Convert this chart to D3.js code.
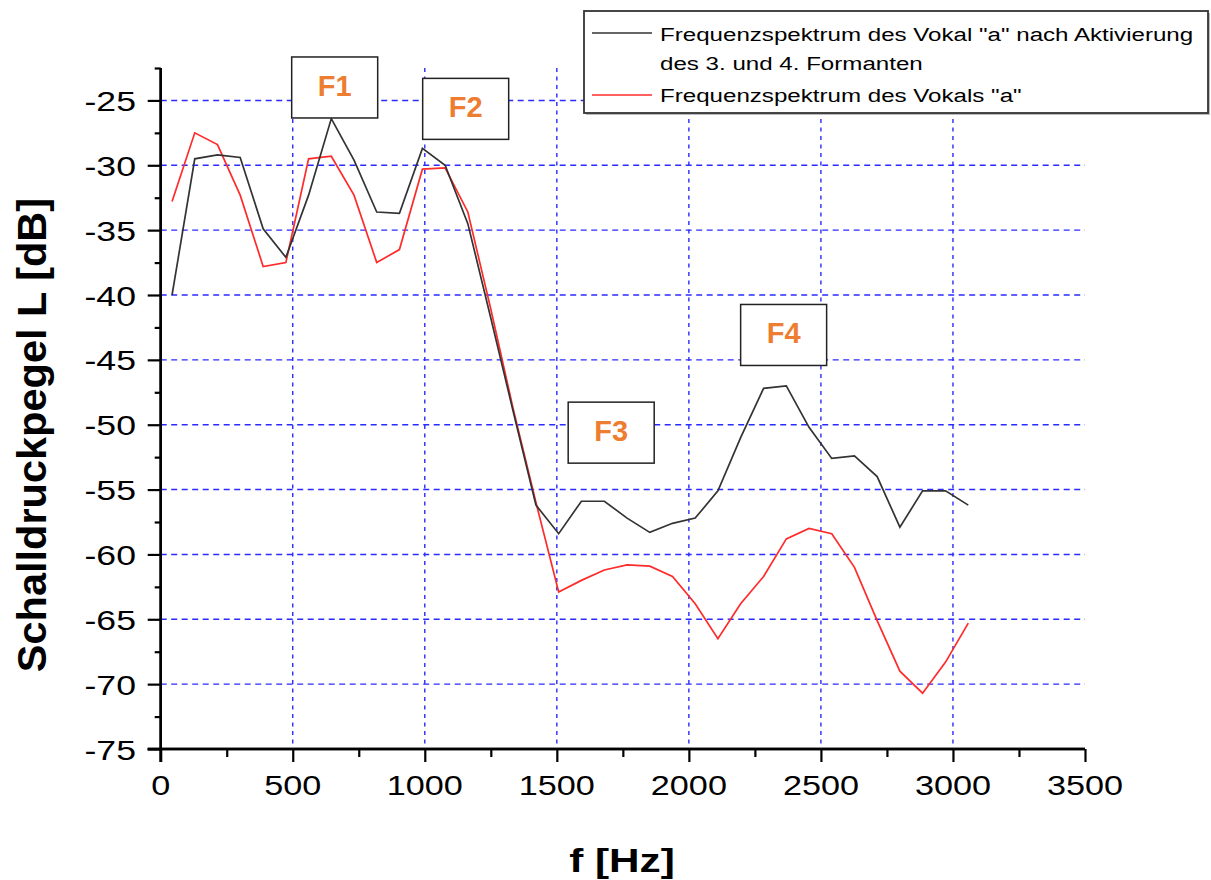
<!DOCTYPE html>
<meta charset="utf-8">
<script src="https://d3js.org/d3.v7.min.js"></script>
<style>
  body { margin: 0; background: #fff; }
  text { font-family: Arial, "Liberation Sans", sans-serif; }
</style>
<div id="chart"></div>
<script>
  // frequency bins (Hz) and levels (dB)
  var freqs = [43, 129, 215, 301, 388, 474, 560, 646, 732, 818, 904, 991, 1077, 1163, 1249, 1335, 1421, 1507,
    1593, 1680, 1766, 1852, 1938, 2024, 2110, 2196, 2283, 2369, 2455, 2541, 2627, 2713, 2799, 2885, 2972, 3058];
  var levelsActivated = [-40.0, -29.5, -29.2, -29.4, -34.9, -37.1, -32.3, -26.4, -29.6, -33.6, -33.7, -28.7,
    -30.0, -34.5, -41.7, -49.0, -56.2, -58.4, -55.9, -55.9, -57.2, -58.3, -57.6, -57.2, -55.1, -51.0,
    -47.2, -47.0, -50.2, -52.6, -52.4, -54.0, -57.9, -55.1, -55.1, -56.2];
  var levelsVowel = [-32.8, -27.5, -28.4, -32.3, -37.8, -37.5, -29.5, -29.3, -32.3, -37.5, -36.5, -30.3,
    -30.2, -33.6, -41.0, -48.8, -56.0, -62.9, -62.0, -61.2, -60.8, -60.9, -61.7, -63.8, -66.5, -63.8,
    -61.7, -58.8, -58.0, -58.4, -61.0, -65.1, -69.0, -70.7, -68.3, -65.3];

  var xTicks = [0, 500, 1000, 1500, 2000, 2500, 3000, 3500];
  var xMinor = [250, 750, 1250, 1750, 2250, 2750, 3250];
  var yTicks = [-75, -70, -65, -60, -55, -50, -45, -40, -35, -30, -25];
  var yMinor = [-72.5, -67.5, -62.5, -57.5, -52.5, -47.5, -42.5, -37.5, -32.5, -27.5, -22.5];

  var legendLabels = ['Frequenzspektrum des Vokal "a" nach Aktivierung', 'des 3. und 4. Formanten',
    'Frequenzspektrum des Vokals "a"'];

  // formant marker boxes: label and top-left corner in data units
  var formantNames = ["F1", "F2", "F3", "F4"];
  var formantFreq = [496, 992, 1543, 2196];
  var formantLevel = [-21.65, -23.3, -48.26, -40.73];

  var W = 1211, H = 880;
  var svg = d3.select("#chart").append("svg")
    .attr("width", W)
    .attr("height", H);

  var x = d3.scaleLinear().domain([0, 3500]).range([160.7, 1085]);
  var y = d3.scaleLinear().domain([-75, -22.5]).range([749, 68]);

  // the original picture is stretched sideways
  function wideText(g, tx, ty, str, size, anchor, weight, sx) {
    return g.append("text")
      .attr("transform", "translate(" + tx + "," + ty + ") scale(" + (sx || 1.3) + ",1)")
      .attr("text-anchor", anchor)
      .style("font-size", size + "px")
      .style("font-weight", weight || "normal")
      .text(str);
  }

  // grid
  var grid = svg.append("g");
  grid.selectAll(".vg")
    .data(xTicks.filter(function (d) { return d > 0 && d < 3500; }))
    .enter().append("line")
    .attr("x1", function (d) { return x(d); })
    .attr("x2", function (d) { return x(d); })
    .attr("y1", y(-22.5))
    .attr("y2", y(-75))
    .attr("stroke", "#2b2bff")
    .attr("stroke-width", 1.4)
    .attr("stroke-dasharray", "4,4.5");
  grid.selectAll(".hg")
    .data(yTicks.filter(function (d) { return d > -75; }))
    .enter().append("line")
    .attr("x1", x(0))
    .attr("x2", x(3500))
    .attr("y1", function (d) { return y(d); })
    .attr("y2", function (d) { return y(d); })
    .attr("stroke", "#2b2bff")
    .attr("stroke-width", 1.4)
    .attr("stroke-dasharray", "6,4.5");

  // data lines
  var line = d3.line()
    .x(function (d) { return x(d[0]); })
    .y(function (d) { return y(d[1]); });

  svg.append("path")
    .datum(d3.zip(freqs, levelsVowel))
    .attr("d", line)
    .attr("fill", "none")
    .attr("stroke", "#ff2b2b")
    .attr("stroke-width", 1.7);
  svg.append("path")
    .datum(d3.zip(freqs, levelsActivated))
    .attr("d", line)
    .attr("fill", "none")
    .attr("stroke", "#333")
    .attr("stroke-width", 1.7);

  // axes
  var xAxis = svg.append("g").attr("transform", "translate(0," + y(-75) + ")");
  xAxis.call(d3.axisBottom(x).tickValues(xTicks).tickSize(13).tickFormat(""));
  xAxis.append("g").call(d3.axisBottom(x).tickValues(xMinor).tickSize(8).tickFormat(""));
  xAxis.selectAll(".domain").attr("stroke-width", 2.4).attr("d", "M" + (x(0) - 13) + ",0H" + x(3500));
  xAxis.selectAll(".tick line").attr("stroke-width", 2.2);

  var yAxis = svg.append("g").attr("transform", "translate(" + x(0) + ",0)");
  yAxis.call(d3.axisLeft(y).tickValues(yTicks).tickSize(13).tickFormat(""));
  yAxis.append("g").call(d3.axisLeft(y).tickValues(yMinor).tickSize(6).tickFormat(""));
  yAxis.selectAll(".domain").attr("stroke-width", 2.4).attr("d", "M0," + y(-22.5) + "V" + (y(-75) + 13));
  yAxis.selectAll(".tick line").attr("stroke-width", 2.2);

  var labels = svg.append("g");
  xTicks.forEach(function (t) {
    wideText(labels, x(t), 795, String(t), 28.5, "middle", "normal", 1.2);
  });
  yTicks.forEach(function (t) {
    wideText(labels, 136, y(t) + 10.5, String(t), 28.5, "end", "normal", 1.25);
  });

  // axis titles
  svg.append("text")
    .attr("transform", "translate(46,435) rotate(-90)")
    .attr("text-anchor", "middle")
    .style("font-size", "41.5px")
    .style("font-weight", "bold")
    .text("Schalldruckpegel L [dB]");
  wideText(svg, 622, 872, "f [Hz]", 32.5, "middle", "bold");

  // formant boxes
  var boxes = svg.append("g").selectAll("g")
    .data(formantNames)
    .enter().append("g")
    .attr("transform", function (d, i) {
      return "translate(" + x(formantFreq[i]) + "," + y(formantLevel[i]) + ")";
    });
  boxes.append("rect")
    .attr("width", 86)
    .attr("height", 61)
    .attr("fill", "#fff")
    .attr("stroke", "#222")
    .attr("stroke-width", 1.5);
  boxes.append("text")
    .attr("x", 43)
    .attr("y", 39)
    .attr("text-anchor", "middle")
    .style("font-size", "29px")
    .style("font-weight", "bold")
    .style("fill", "#ed7d31")
    .text(function (d) { return d; });

  // legend
  var legend = svg.append("g");
  legend.append("rect")
    .attr("x", 586).attr("y", 13).attr("width", 624).attr("height", 102)
    .attr("fill", "#bbb");
  legend.append("rect")
    .attr("x", 584).attr("y", 11).attr("width", 624).attr("height", 102)
    .attr("fill", "#fff")
    .attr("stroke", "#333")
    .attr("stroke-width", 1.8);
  legend.append("line")
    .attr("x1", 592).attr("x2", 652).attr("y1", 33).attr("y2", 33)
    .attr("stroke", "#333").attr("stroke-width", 1.6);
  legend.append("line")
    .attr("x1", 592).attr("x2", 652).attr("y1", 95).attr("y2", 95)
    .attr("stroke", "#ff2b2b").attr("stroke-width", 1.6);
  wideText(legend, 660, 40.5, legendLabels[0], 19, "start", "normal", 1.27);
  wideText(legend, 660, 69.5, legendLabels[1], 19, "start", "normal", 1.27);
  wideText(legend, 660, 102, legendLabels[2], 19, "start", "normal", 1.27);
</script>
